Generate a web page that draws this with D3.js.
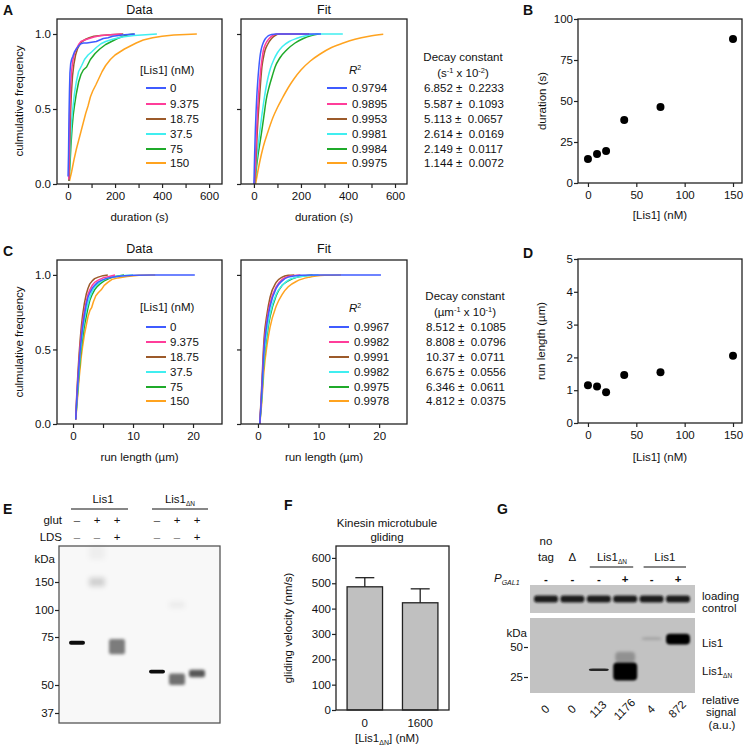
<!DOCTYPE html>
<html><head><meta charset="utf-8">
<script src="https://cdn.jsdelivr.net/npm/d3@7"></script>
<style>html,body{margin:0;padding:0;background:#fff}</style>
</head><body>
<svg id="fig" width="745" height="749" xmlns="http://www.w3.org/2000/svg"></svg>
<script>
// ---------------- DATA ----------------
const lis1Labels = ["0","9.375","18.75","37.5","75","150"];
const lis1Conc = [0, 9.375, 18.75, 37.5, 75, 150];
const durationR2 = ["0.9794","0.9895","0.9953","0.9981","0.9984","0.9975"];
const durationDecay = ["6.852 \u00b1  0.2233","5.587 \u00b1  0.1093","5.113 \u00b1  0.0657","2.614 \u00b1  0.0169","2.149 \u00b1  0.0117","1.144 \u00b1  0.0072"];
const runR2 = ["0.9967","0.9982","0.9991","0.9982","0.9975","0.9978"];
const runDecay = ["8.512 \u00b1  0.1085","8.808 \u00b1  0.0796","10.37 \u00b1  0.0711","6.675 \u00b1  0.0556","6.346 \u00b1  0.0611","4.812 \u00b1  0.0375"];
const meanDuration = [14.6, 17.7, 19.5, 38.4, 46.3, 87.8];
const meanRunLength = [1.15, 1.11, 0.94, 1.46, 1.55, 2.05];

const cdfTicks = [0, 0.5, 1];
const durationTicks = [0, 200, 400, 600];
const durationMinor = [100, 300, 500];
const runTicks = [0, 10, 20];
const runMinor = [5, 15, 25];
const concTicks = [0, 50, 100, 150];
const durationMeanTicks = [0, 25, 50, 75, 100];
const runMeanTicks = [0, 1, 2, 3, 4, 5];

const durationDataCurves = [
  [[0,0.05],[2,0.2],[4,0.45],[6,0.62],[8,0.74],[11,0.8],[15,0.83],[20,0.85],[27,0.88],[35,0.9],[45,0.92],[55,0.935],[65,0.94],[80,0.94],[100,0.945],[120,0.95],[135,0.96],[150,0.97],[170,0.975],[190,0.985],[215,0.99],[240,0.995],[285,1]],
  [[3,0.03],[5,0.25],[8,0.5],[11,0.65],[15,0.75],[20,0.82],[27,0.87],[35,0.9],[45,0.93],[55,0.95],[70,0.96],[90,0.97],[110,0.98],[140,0.99],[180,0.995],[230,1]],
  [[4,0.02],[7,0.25],[10,0.45],[14,0.6],[19,0.72],[25,0.8],[32,0.86],[40,0.9],[50,0.93],[60,0.95],[75,0.965],[90,0.975],[110,0.985],[140,0.99],[180,0.995],[235,1]],
  [[4,0.02],[7,0.15],[11,0.3],[15,0.42],[20,0.5],[27,0.6],[35,0.68],[45,0.75],[58,0.79],[70,0.83],[85,0.86],[100,0.88],[120,0.91],[140,0.935],[160,0.95],[190,0.965],[230,0.98],[280,0.99],[330,0.995],[378,1]],
  [[4,0.02],[8,0.12],[12,0.25],[17,0.37],[22,0.46],[28,0.53],[35,0.6],[45,0.68],[55,0.73],[65,0.76],[79,0.78],[95,0.83],[115,0.87],[135,0.9],[160,0.93],[185,0.95],[210,0.97],[235,0.985],[255,0.995],[280,1]],
  [[6,0.02],[15,0.08],[25,0.16],[35,0.23],[45,0.29],[55,0.35],[65,0.41],[75,0.47],[85,0.52],[95,0.58],[105,0.62],[118,0.66],[130,0.7],[145,0.75],[160,0.79],[180,0.83],[200,0.86],[220,0.88],[240,0.9],[265,0.92],[290,0.94],[320,0.96],[360,0.975],[400,0.985],[450,0.993],[500,0.997],[548,1]]
];
const durationFitCurves = [
  [[0,0],[3,0.2],[6,0.36],[9,0.48],[12,0.58],[16,0.68],[20,0.76],[25,0.84],[30,0.89],[38,0.935],[47,0.965],[60,0.987],[75,0.997],[95,1],[285,1]],
  [[2,0],[5,0.1],[8,0.22],[11,0.34],[14,0.44],[18,0.56],[23,0.66],[30,0.78],[35,0.84],[40,0.89],[50,0.935],[65,0.97],[80,0.99],[96,1],[230,1]],
  [[3,0],[6,0.08],[10,0.2],[14,0.34],[18,0.45],[23,0.56],[28,0.67],[34,0.78],[40,0.84],[47,0.89],[58,0.93],[75,0.97],[90,0.99],[110,1],[235,1]],
  [[3,0],[8,0.1],[14,0.2],[20,0.28],[26,0.36],[33,0.45],[40,0.53],[50,0.63],[60,0.71],[70,0.77],[85,0.83],[100,0.875],[120,0.915],[150,0.95],[180,0.97],[220,0.988],[270,1],[378,1]],
  [[4,0],[10,0.1],[18,0.2],[26,0.28],[34,0.36],[43,0.46],[52,0.56],[65,0.65],[78,0.72],[90,0.78],[110,0.84],[140,0.895],[175,0.94],[210,0.97],[245,0.99],[275,1]],
  [[7,0],[15,0.07],[25,0.15],[40,0.25],[60,0.35],[80,0.44],[100,0.51],[120,0.57],[145,0.64],[170,0.7],[200,0.76],[240,0.82],[280,0.865],[330,0.91],[380,0.94],[430,0.965],[490,0.985],[550,0.998]]
];
const runDataCurves = [
  [[0.45,0.03],[0.6,0.15],[0.8,0.28],[1.0,0.4],[1.2,0.5],[1.4,0.58],[1.6,0.65],[1.9,0.73],[2.2,0.8],[2.5,0.85],[2.8,0.88],[3.2,0.91],[3.6,0.93],[4.1,0.95],[4.8,0.965],[5.5,0.975],[6.5,0.985],[8,0.993],[10,0.997],[13,1],[20.3,1]],
  [[0.45,0.03],[0.6,0.16],[0.8,0.3],[1.0,0.42],[1.2,0.53],[1.4,0.61],[1.6,0.68],[1.9,0.76],[2.2,0.82],[2.5,0.87],[2.8,0.9],[3.2,0.93],[3.6,0.95],[4.2,0.965],[5,0.98],[6,0.99],[7,1]],
  [[0.45,0.03],[0.6,0.18],[0.8,0.33],[1.0,0.46],[1.2,0.57],[1.4,0.66],[1.6,0.73],[1.9,0.81],[2.2,0.87],[2.5,0.91],[2.8,0.94],[3.2,0.96],[3.6,0.975],[4.2,0.985],[5,0.995],[5.8,1]],
  [[0.45,0.03],[0.6,0.13],[0.8,0.25],[1.0,0.37],[1.2,0.47],[1.4,0.55],[1.6,0.62],[1.9,0.7],[2.2,0.76],[2.5,0.81],[2.8,0.85],[3.2,0.89],[3.6,0.92],[4.1,0.94],[4.8,0.96],[5.5,0.975],[6.5,0.985],[8,0.995],[10,1]],
  [[0.45,0.03],[0.6,0.12],[0.8,0.23],[1.0,0.34],[1.2,0.44],[1.4,0.52],[1.6,0.58],[1.9,0.66],[2.2,0.72],[2.5,0.78],[2.8,0.83],[3.2,0.87],[3.6,0.9],[4.0,0.92],[4.5,0.94],[5.2,0.96],[6,0.975],[7,0.99],[8.5,1]],
  [[0.45,0.03],[0.6,0.1],[0.8,0.2],[1.0,0.3],[1.2,0.38],[1.4,0.46],[1.6,0.52],[1.9,0.6],[2.2,0.66],[2.5,0.72],[2.8,0.76],[3.1,0.78],[3.4,0.82],[3.8,0.86],[4.2,0.88],[4.7,0.9],[5.2,0.93],[5.8,0.95],[6.5,0.97],[7.5,0.98],[9,0.99],[11,0.997],[13.7,1]]
];
const runFitCurves = [
  [[0.3,0],[0.6,0.2],[1,0.5],[1.5,0.68],[2,0.79],[3,0.91],[4,0.96],[5,0.985],[7,0.998],[9,1],[20.3,1]],
  [[0.3,0],[0.6,0.21],[1,0.52],[1.5,0.7],[2,0.81],[3,0.92],[4,0.97],[5,0.99],[7,1]],
  [[0.3,0],[0.6,0.24],[1,0.57],[1.5,0.74],[2,0.85],[3,0.95],[4,0.985],[5,0.997],[6,1]],
  [[0.3,0],[0.6,0.17],[1,0.45],[1.5,0.62],[2,0.74],[3,0.87],[4,0.93],[5,0.965],[6.5,0.985],[8,0.995],[10,1]],
  [[0.3,0],[0.6,0.16],[1,0.43],[1.5,0.6],[2,0.72],[3,0.86],[4,0.93],[5,0.96],[6.5,0.985],[9,1]],
  [[0.3,0],[0.6,0.13],[1,0.36],[1.5,0.53],[2,0.65],[3,0.79],[4,0.87],[5,0.92],[6.5,0.96],[8.5,0.985],[11,0.997],[13.7,1]]
];

const glidingConc = ["0", "1600"];
const glidingVelocity = [486, 423];
const glidingSem = [36, 55];
const glidingTicks = [0, 100, 200, 300, 400, 500, 600];

const gelEGlut = ["\u2013","+","+","\u2013","+","+"];
const gelELDS = ["\u2013","\u2013","+","\u2013","\u2013","+"];
const gelEMarkers = [150, 100, 75, 50, 37];
// [lane, kDa top, kDa bottom, intensity]
const gelEBands = [[0,73,71,0.95],[1,158,142,0.16],[1,215,190,0.04],[2,74,66,0.5],[3,58,56,0.95],[4,56,50,0.55],[4,115,103,0.05],[5,58,54,0.65]];

const blotGPgal = ["-","-","-","+","-","+"];
const blotGSignal = ["0","0","113","1176","4","872"];
const blotGMarkers = [50, 25];
const blotGLoading = [1,1,1,1,1,1];
const blotGBands = [[2,32,30,0.8],[3,37,22,1.0],[3,46,37,0.25],[4,58,56,0.2],[5,61,52,1.0]];

// ---------------- STYLE ----------------
const seriesColors = ["#3f5bff","#ff3d9a","#9c5a2a","#40eef0","#1faa2a","#ffa31f"];
const svg = d3.select("#fig")
  .attr("font-family","Arial, 'Liberation Sans', Helvetica, sans-serif")
  .attr("font-size", 11.5).attr("fill","#111");
const defs = svg.append("defs");
[0.6, 1.0, 1.8, 2.6].forEach((s,i)=>{
  defs.append("filter").attr("id","blur"+i).attr("x","-60%").attr("y","-150%").attr("width","220%").attr("height","400%")
    .append("feGaussianBlur").attr("stdDeviation", s);
});

function txt(x, y, t, o = {}) {
  const el = svg.append("text").attr("x", x).attr("y", y);
  if (t !== null) el.text(t);
  if (o.anchor) el.attr("text-anchor", o.anchor);
  if (o.size) el.attr("font-size", o.size);
  if (o.weight) el.attr("font-weight", o.weight);
  if (o.italic) el.attr("font-style", "italic");
  if (o.fill) el.attr("fill", o.fill);
  if (o.rotate !== undefined) el.attr("transform", `rotate(${o.rotate},${x},${y})`);
  return el;
}
// parts: [text, kind("sup"|"sub"|null), size, style]
function rich(x, y, parts, o = {}) {
  const el = txt(x, y, null, o);
  let cur = 0;
  parts.forEach(p => {
    const off = p[1] === "sup" ? -4.5 : (p[1] === "sub" ? 3 : 0);
    const ts = el.append("tspan").attr("dy", off - cur).text(p[0]);
    if (p[1]) ts.attr("font-size", p[2] || 7.5);
    if (p[3]) ts.attr("font-style", p[3]);
    cur = off;
  });
  return el;
}

function styleAxis(g) {
  g.attr("font-family", null).attr("font-size", 11.5);
  g.select(".domain").remove();
  g.selectAll(".tick line").attr("stroke", "#222").attr("stroke-width", 1.2);
  g.selectAll(".tick text").attr("fill", "#111");
}
function frameBox(x0, x1, y0, y1, stroke="#222") {
  svg.append("rect").attr("x", x0).attr("y", y0).attr("width", x1 - x0).attr("height", y1 - y0)
    .attr("fill", "none").attr("stroke", stroke).attr("stroke-width", 1.3);
}

function cdfPanel(p) {
  const x = d3.scaleLinear().domain(p.xDomain).range([p.x0, p.x1]);
  const y = d3.scaleLinear().domain([0, 1.1]).range([p.y1, p.y0]);
  const line = d3.line().x(d => x(d[0])).y(d => y(d[1])).curve(p.smooth ? d3.curveMonotoneX : d3.curveLinear);
  for (let i = p.curves.length - 1; i >= 0; i--) {
    svg.append("path").attr("d", line(p.curves[i])).attr("fill", "none")
      .attr("stroke", seriesColors[i]).attr("stroke-width", 1.5).attr("stroke-linejoin", "round");
  }
  frameBox(p.x0, p.x1, p.y0, p.y1);
  const gx = svg.append("g").attr("transform", `translate(0,${p.y1})`)
    .call(d3.axisBottom(x).tickValues(p.xMajor).tickSize(4).tickPadding(4).tickFormat(d3.format("d")));
  styleAxis(gx);
  const gm = svg.append("g").attr("transform", `translate(0,${p.y1})`)
    .call(d3.axisBottom(x).tickValues(p.xMinor.filter(v => x(v) < p.x1 - 1)).tickSize(4).tickFormat(""));
  styleAxis(gm);
  const gy = svg.append("g").attr("transform", `translate(${p.x0},0)`)
    .call(d3.axisLeft(y).tickValues(cdfTicks).tickSize(4).tickPadding(2).tickFormat(p.yLabels ? d3.format(".1f") : ""));
  styleAxis(gy);
  txt((p.x0 + p.x1) / 2, p.titleY, p.title, {anchor: "middle", size: 12.5});
  txt((p.x0 + p.x1) / 2, p.xLabelY, p.xLabel, {anchor: "middle"});
}

function legendRows(lineX, textX, rowYs, labels) {
  labels.forEach((lab, i) => {
    svg.append("line").attr("x1", lineX).attr("x2", lineX + 20).attr("y1", rowYs[i]).attr("y2", rowYs[i])
      .attr("stroke", seriesColors[i]).attr("stroke-width", 2);
    txt(textX, rowYs[i] + 4, lab);
  });
}

function scatterPanel(p) {
  const x = d3.scaleLinear().domain(p.xDomain).range([p.x0, p.x1]);
  const y = d3.scaleLinear().domain(p.yDomain).range([p.y1, p.y0]);
  frameBox(p.x0, p.x1, p.y0, p.y1);
  const gx = svg.append("g").attr("transform", `translate(0,${p.y1})`)
    .call(d3.axisBottom(x).tickValues(concTicks).tickSize(4).tickPadding(4).tickFormat(d3.format("d")));
  styleAxis(gx);
  const gy = svg.append("g").attr("transform", `translate(${p.x0},0)`)
    .call(d3.axisLeft(y).tickValues(p.yTicks).tickSize(4).tickPadding(1).tickFormat(d3.format("d")));
  styleAxis(gy);
  svg.append("g").selectAll("circle").data(p.values).join("circle")
    .attr("cx", (d, i) => x(lis1Conc[i])).attr("cy", d => y(d)).attr("r", 4).attr("fill", "#000");
  txt((p.x0 + p.x1) / 2, p.xLabelY, "[Lis1] (nM)", {anchor: "middle"});
  txt(p.yLabelX, (p.y0 + p.y1) / 2, p.yLabel, {anchor: "middle", rotate: -90});
}

// ---------------- PANEL A ----------------
txt(3, 15, "A", {weight: "bold", size: 14});
cdfPanel({x0: 57, x1: 222, y0: 19, y1: 184, xDomain: [-47, 655], xMajor: durationTicks, xMinor: durationMinor,
  curves: durationDataCurves, smooth: false, yLabels: true, title: "Data", titleY: 14, xLabel: "duration (s)", xLabelY: 221});
cdfPanel({x0: 241, x1: 407, y0: 19, y1: 184, xDomain: [-55, 651], xMajor: durationTicks, xMinor: durationMinor,
  curves: durationFitCurves, smooth: true, yLabels: false, title: "Fit", titleY: 14, xLabel: "duration (s)", xLabelY: 221});
txt(23, 101, "culmulative frequency", {anchor: "middle", rotate: -90});
const rowsA = [88, 104, 119, 134, 149, 163];
txt(140, 74, "[Lis1] (nM)");
legendRows(146, 170, rowsA, lis1Labels);
rich(349, 74, [["R", null, null, "italic"], ["2", "sup", 7]]);
legendRows(327, 352, rowsA, durationR2);
txt(463, 61, "Decay constant", {anchor: "middle"});
rich(463, 77, [["(s", null], ["-1", "sup"], [" x 10", null], ["-2", "sup"], [")", null]], {anchor: "middle"});
durationDecay.forEach((d, i) => txt(424, rowsA[i] + 4, d).style("white-space", "pre"));

// ---------------- PANEL B ----------------
txt(523, 15, "B", {weight: "bold", size: 14});
scatterPanel({x0: 578, x1: 742, y0: 19, y1: 183, xDomain: [-10.3, 159.3], yDomain: [0, 100], yTicks: durationMeanTicks,
  values: meanDuration, xLabelY: 219, yLabel: "duration (s)", yLabelX: 546});

// ---------------- PANEL C ----------------
txt(3, 256, "C", {weight: "bold", size: 14});
cdfPanel({x0: 57, x1: 222, y0: 260, y1: 424, xDomain: [-2.67, 24.83], xMajor: runTicks, xMinor: runMinor,
  curves: runDataCurves, smooth: false, yLabels: true, title: "Data", titleY: 253, xLabel: "run length (\u00b5m)", xLabelY: 461});
cdfPanel({x0: 241, x1: 407, y0: 260, y1: 424, xDomain: [-2.8, 24.6], xMajor: runTicks, xMinor: runMinor,
  curves: runFitCurves, smooth: true, yLabels: false, title: "Fit", titleY: 253, xLabel: "run length (\u00b5m)", xLabelY: 461});
txt(23, 342, "culmulative frequency", {anchor: "middle", rotate: -90});
const rowsC = [327, 342, 357, 372, 387, 401];
txt(140, 311, "[Lis1] (nM)");
legendRows(146, 170, rowsC, lis1Labels);
rich(349, 312, [["R", null, null, "italic"], ["2", "sup", 7]]);
legendRows(329, 354, rowsC, runR2);
txt(465, 300, "Decay constant", {anchor: "middle"});
rich(465, 316, [["(\u00b5m", null], ["-1", "sup"], [" x 10", null], ["-1", "sup"], [")", null]], {anchor: "middle"});
runDecay.forEach((d, i) => txt(426, rowsC[i] + 4, d).style("white-space", "pre"));

// ---------------- PANEL D ----------------
txt(523, 258, "D", {weight: "bold", size: 14});
scatterPanel({x0: 578, x1: 742, y0: 259, y1: 423, xDomain: [-10.3, 159.3], yDomain: [0, 5], yTicks: runMeanTicks,
  values: meanRunLength, xLabelY: 461, yLabel: "run length (\u00b5m)", yLabelX: 545});

// ---------------- PANEL E ----------------
txt(3, 514, "E", {weight: "bold", size: 14});
{
  const ex0 = 59, ex1 = 220, ey0 = 546, ey1 = 723;
  const laneX = i => 77 + (i + (i >= 3 ? 1 : 0)) * 20;
  const kda = d3.scaleLinear().domain([150, 100, 75, 50, 37]).range([582, 610, 637, 685, 713]);
  svg.append("rect").attr("x", ex0).attr("y", ey0).attr("width", ex1 - ex0).attr("height", ey1 - ey0).attr("fill", "#f8f8f8");
  svg.append("g").selectAll("rect").data(gelEBands).join("rect")
    .attr("x", d => laneX(d[0]) - 8).attr("width", 16)
    .attr("y", d => kda(d[1])).attr("height", d => kda(d[2]) - kda(d[1]))
    .attr("rx", 2).attr("fill", "#000").attr("fill-opacity", d => d[3])
    .attr("filter", d => d[3] > 0.9 ? "url(#blur0)" : (d[3] > 0.3 ? "url(#blur2)" : "url(#blur3)"));
  frameBox(ex0, ex1, ey0, ey1, "#555");
  const gy = svg.append("g").attr("transform", `translate(${ex0},0)`)
    .call(d3.axisLeft(kda).tickValues(gelEMarkers).tickSize(4).tickPadding(1));
  styleAxis(gy);
  txt(55, 563, "kDa", {anchor: "end"});
  txt(103, 503, "Lis1", {anchor: "middle"});
  rich(180, 503, [["Lis1", null], ["\u0394N", "sub", 6.5]], {anchor: "middle"});
  svg.append("line").attr("x1", 71).attr("x2", 128).attr("y1", 509).attr("y2", 509).attr("stroke", "#111").attr("stroke-width", 1.2);
  svg.append("line").attr("x1", 152).attr("x2", 208).attr("y1", 509).attr("y2", 509).attr("stroke", "#111").attr("stroke-width", 1.2);
  txt(62, 524, "glut", {anchor: "end"});
  txt(62, 541, "LDS", {anchor: "end"});
  gelEGlut.forEach((s, i) => txt(laneX(i), 524, s, {anchor: "middle", fill: s === "+" ? "#111" : "#444"}));
  gelELDS.forEach((s, i) => txt(laneX(i), 541, s, {anchor: "middle", fill: s === "+" ? "#111" : "#777"}));
}

// ---------------- PANEL F ----------------
txt(284, 510, "F", {weight: "bold", size: 14});
{
  const fx0 = 336, fx1 = 449, fy0 = 546, fy1 = 710;
  const x = d3.scaleBand().domain(glidingConc).range([fx0, fx1]).paddingInner(0.36).paddingOuter(0.2);
  const y = d3.scaleLinear().domain([0, 647]).range([fy1, fy0]);
  const g = svg.append("g");
  g.selectAll("rect").data(glidingVelocity).join("rect")
    .attr("x", (d, i) => x(glidingConc[i])).attr("width", x.bandwidth())
    .attr("y", d => y(d)).attr("height", d => fy1 - y(d))
    .attr("fill", "#c0c0c0").attr("stroke", "#222").attr("stroke-width", 1.3);
  glidingVelocity.forEach((v, i) => {
    const cx = x(glidingConc[i]) + x.bandwidth() / 2;
    g.append("line").attr("x1", cx).attr("x2", cx).attr("y1", y(v)).attr("y2", y(v + glidingSem[i])).attr("stroke", "#222").attr("stroke-width", 1.3);
    g.append("line").attr("x1", cx - 9.5).attr("x2", cx + 9.5).attr("y1", y(v + glidingSem[i])).attr("y2", y(v + glidingSem[i])).attr("stroke", "#222").attr("stroke-width", 1.3);
  });
  frameBox(fx0, fx1, fy0, fy1);
  const gy = svg.append("g").attr("transform", `translate(${fx0},0)`)
    .call(d3.axisLeft(y).tickValues(glidingTicks).tickSize(4).tickPadding(1));
  styleAxis(gy);
  const gx = svg.append("g").attr("transform", `translate(0,${fy1})`)
    .call(d3.axisBottom(x).tickSize(0).tickPadding(9));
  styleAxis(gx);
  txt(387, 527, "Kinesin microtubule", {anchor: "middle"});
  txt(387, 541, "gliding", {anchor: "middle"});
  rich(387, 742, [["[Lis1", null], ["\u0394N", "sub", 7], ["] (nM)", null]], {anchor: "middle"});
  txt(292, 628, "gliding velocity (nm/s)", {anchor: "middle", rotate: -90});
}

// ---------------- PANEL G ----------------
txt(497, 514, "G", {weight: "bold", size: 14});
{
  const lanes = d3.range(blotGSignal.length);
  const x = d3.scalePoint().domain(lanes).range([546, 678]);
  const bx0 = 530, bx1 = 695;
  svg.append("rect").attr("x", bx0).attr("y", 585).attr("width", bx1 - bx0).attr("height", 28).attr("fill", "#c6c6c6");
  svg.append("g").selectAll("rect").data(blotGLoading).join("rect")
    .attr("x", (d, i) => x(i) - 12).attr("width", 24).attr("y", 595.5).attr("height", 7).attr("rx", 3)
    .attr("fill", "#111").attr("fill-opacity", d => 0.92 * d).attr("filter", "url(#blur1)");
  const kda = d3.scaleLinear().domain([25, 50]).range([677, 647]);
  svg.append("rect").attr("x", bx0).attr("y", 618).attr("width", bx1 - bx0).attr("height", 75).attr("fill", "#c2c2c2");
  svg.append("g").selectAll("rect").data(blotGBands).join("rect")
    .attr("x", d => x(d[0]) - (d[3] > 0.9 ? 12 : 10)).attr("width", d => d[3] > 0.9 ? 24 : 20)
    .attr("y", d => kda(d[1])).attr("height", d => kda(d[2]) - kda(d[1])).attr("rx", 4)
    .attr("fill", "#000").attr("fill-opacity", d => d[3])
    .attr("filter", d => d[3] > 0.9 ? "url(#blur1)" : (d[3] > 0.5 ? "url(#blur0)" : "url(#blur2)"));
  const gy = svg.append("g").attr("transform", `translate(${bx0 - 2},0)`)
    .call(d3.axisLeft(kda).tickValues(blotGMarkers).tickSize(4).tickPadding(1));
  styleAxis(gy);
  txt(527, 637, "kDa", {anchor: "end"});
  txt(x(0), 545, "no", {anchor: "middle"});
  txt(x(0), 561, "tag", {anchor: "middle"});
  txt(x(1), 561, "\u0394", {anchor: "middle"});
  rich((x(2) + x(3)) / 2, 561, [["Lis1", null], ["\u0394N", "sub", 6.5]], {anchor: "middle"});
  txt((x(4) + x(5)) / 2, 561, "Lis1", {anchor: "middle"});
  svg.append("line").attr("x1", x(2) - 9).attr("x2", x(3) + 8).attr("y1", 567).attr("y2", 567).attr("stroke", "#111").attr("stroke-width", 1.2);
  svg.append("line").attr("x1", x(4) - 8).attr("x2", x(5) + 8).attr("y1", 567).attr("y2", 567).attr("stroke", "#111").attr("stroke-width", 1.2);
  rich(494, 582, [["P", null], ["GAL1", "sub", 7]], {italic: true});
  blotGPgal.forEach((s, i) => txt(x(i), 583, s, {anchor: "middle", weight: "bold"}));
  txt(702, 600, "loading");
  txt(702, 612, "control");
  txt(702, 647, "Lis1");
  rich(702, 675, [["Lis1", null], ["\u0394N", "sub", 6.5]]);
  txt(702, 704, "relative");
  txt(721, 716, "signal", {anchor: "middle"});
  txt(722, 729, "(a.u.)", {anchor: "middle"});
  blotGSignal.forEach((s, i) => txt(x(i) + 2, 712, s, {anchor: "middle", rotate: -45}));
}
</script>
</body></html>
